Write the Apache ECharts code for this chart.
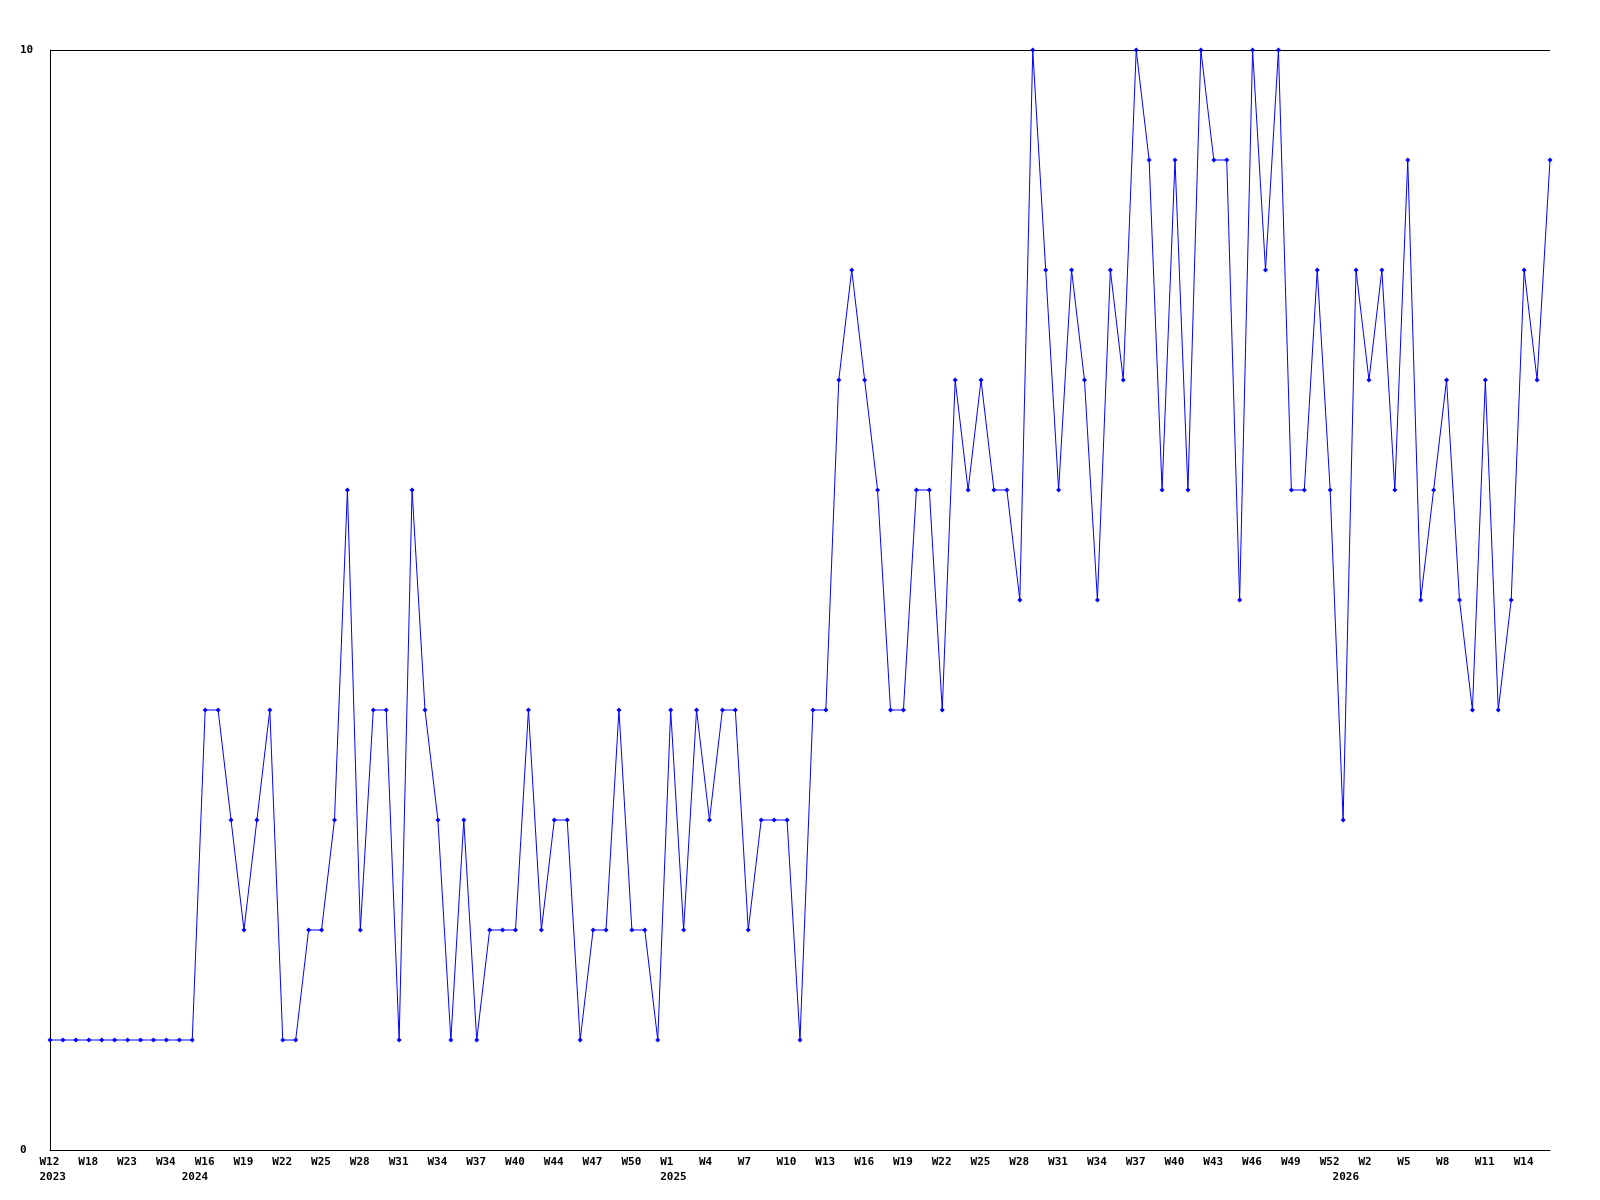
<!DOCTYPE html>
<html>
<head>
<meta charset="utf-8">
<script src="https://cdn.jsdelivr.net/npm/echarts@6/dist/echarts.min.js"></script>
<style>html,body{margin:0;padding:0;background:#fff}#c{width:1600px;height:1200px}</style>
</head>
<body>
<div id="c"></div>
<script>
// Categories: year-week (only every third week label and the first of each year are shown)
var categories = [
  '2023-W12','2023-W14','2023-W16','2023-W18','2023-W20','2023-W21','2023-W23','2023-W26','2023-W30','2023-W34','2023-W45',
  '2024-W12','2024-W16','2024-W17','2024-W18','2024-W19','2024-W20','2024-W21','2024-W22','2024-W23','2024-W24','2024-W25',
  '2024-W26','2024-W27','2024-W28','2024-W29','2024-W30','2024-W31','2024-W32','2024-W33','2024-W34','2024-W35','2024-W36',
  '2024-W37','2024-W38','2024-W39','2024-W40','2024-W41','2024-W43','2024-W44','2024-W45','2024-W46','2024-W47','2024-W48',
  '2024-W49','2024-W50','2024-W51','2024-W52',
  '2025-W1','2025-W2','2025-W3','2025-W4','2025-W5','2025-W6','2025-W7','2025-W8','2025-W9','2025-W10','2025-W11','2025-W12',
  '2025-W13','2025-W14','2025-W15','2025-W16','2025-W17','2025-W18','2025-W19','2025-W20','2025-W21','2025-W22','2025-W23',
  '2025-W24','2025-W25','2025-W26','2025-W27','2025-W28','2025-W29','2025-W30','2025-W31','2025-W32','2025-W33','2025-W34',
  '2025-W35','2025-W36','2025-W37','2025-W38','2025-W39','2025-W40','2025-W41','2025-W42','2025-W43','2025-W44','2025-W45',
  '2025-W46','2025-W47','2025-W48','2025-W49','2025-W50','2025-W51','2025-W52',
  '2026-W0','2026-W1','2026-W2','2026-W3','2026-W4','2026-W5','2026-W6','2026-W7','2026-W8','2026-W9','2026-W10','2026-W11',
  '2026-W12','2026-W13','2026-W14','2026-W15','2026-W16'
];
var values = [
  1,1,1,1,1,1,1,1,1,1,1,1,
  4,4,3,2,3,4,1,1,2,2,3,6,2,4,4,1,6,4,3,1,3,1,2,2,2,4,2,3,3,1,2,2,4,2,2,1,
  4,2,4,3,4,4,2,3,3,3,1,4,4,7,8,7,6,4,4,6,6,4,7,6,7,6,6,5,10,8,6,8,7,5,8,7,10,9,6,9,6,10,9,9,5,10,8,10,6,6,8,6,
  3,8,7,8,6,9,5,6,7,5,4,7,4,5,8,7,9
];
var yTicks = [0, 10];
var labelEvery = 3;

var FONT = '"DejaVu Sans Mono", "Liberation Mono", monospace';
var chart = echarts.init(document.getElementById('c'), null, {renderer: 'canvas'});

function isFirstOfYear(i) {
  return i === 0 || categories[i].split('-')[0] !== categories[i - 1].split('-')[0];
}

chart.setOption({
  animation: false,
  backgroundColor: '#ffffff',
  grid: {left: 50, right: 50, top: 50, bottom: 50, containLabel: false},
  xAxis: {
    type: 'category',
    data: categories,
    boundaryGap: false,
    axisLine: {show: true, lineStyle: {color: '#000', width: 1}},
    axisTick: {show: false},
    splitLine: {show: false},
    axisLabel: {
      interval: 0,
      margin: 5,
      align: 'center',
      verticalAlign: 'top',
      formatter: function (val, idx) {
        var parts = val.split('-');
        var wk = (idx % labelEvery === 0) ? parts[1] : '';
        var yr = isFirstOfYear(idx) ? parts[0] : '';
        if (!wk && !yr) return '';
        return '{w|' + (wk || ' ') + '}' + (yr ? '\n{w|' + yr + '}' : '');
      },
      rich: {
        w: {width: 21, align: 'left', fontFamily: FONT, fontSize: 11, fontWeight: 'bold', color: '#000', lineHeight: 15}
      }
    }
  },
  yAxis: {
    type: 'value',
    min: yTicks[0],
    max: yTicks[1],
    interval: yTicks[1] - yTicks[0],
    axisLine: {show: true, lineStyle: {color: '#000', width: 1}},
    axisTick: {show: false},
    splitLine: {show: true, lineStyle: {color: '#000', width: 1}},
    axisLabel: {
      margin: 30,
      align: 'left',
      fontFamily: FONT,
      fontSize: 11,
      fontWeight: 'bold',
      color: '#000'
    }
  },
  series: [{
    type: 'line',
    data: values,
    symbol: 'diamond',
    symbolSize: 5,
    showAllSymbol: true,
    lineStyle: {color: '#0000ff', width: 1},
    itemStyle: {color: '#0000ff'},
    z: 3
  }]
});
</script>
</body>
</html>
